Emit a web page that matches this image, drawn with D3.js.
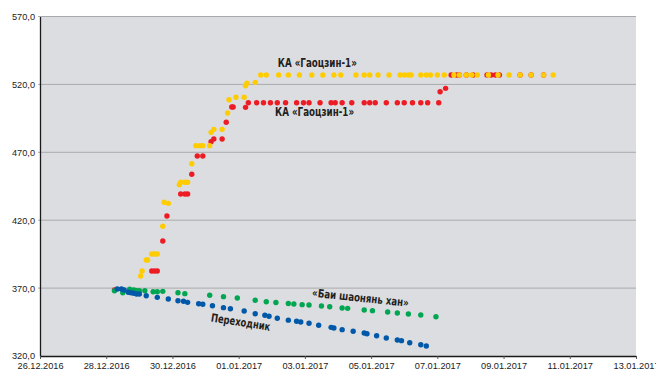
<!DOCTYPE html>
<html>
<head>
<meta charset="utf-8">
<script src="https://cdn.jsdelivr.net/npm/d3@7"></script>
<style>
  body { margin: 0; background: #fff; }
  .tick text { font-family: "Liberation Sans", Arial, sans-serif; font-size: 9.2px; fill: #222; }
  .label { font-family: "Liberation Sans Narrow", "DejaVu Sans Condensed", sans-serif; font-weight: bold; font-size: 11.5px; fill: #231f20; }
</style>
</head>
<body>
<div class="chart"></div>
<script>
var width = 656;
var height = 372;
var radius = 2.7;

var margin = { "top": 16.5, "bottom": 16, "left": 40, "right": 20 };

// КА «Гаоцзин-1» (yellow)
var yellowData = [
  ["29.12.2016 01:00", 378.9], ["29.12.2016 02:00", 382.6], ["29.12.2016 05:00", 390.7], ["29.12.2016 06:00", 390.7],
  ["29.12.2016 09:00", 395.1], ["29.12.2016 11:00", 395.1], ["29.12.2016 13:00", 395.1], ["29.12.2016 17:00", 415.5],
  ["29.12.2016 18:00", 433.2], ["29.12.2016 21:00", 432.4], ["30.12.2016 05:00", 446.1], ["30.12.2016 06:00", 447.9],
  ["30.12.2016 09:00", 447.9], ["30.12.2016 11:00", 447.9], ["30.12.2016 14:00", 461.6], ["30.12.2016 17:00", 474.9],
  ["30.12.2016 20:00", 474.9], ["30.12.2016 22:00", 474.9], ["31.12.2016 03:00", 474.9], ["31.12.2016 04:00", 484.7],
  ["31.12.2016 06:00", 486.9], ["31.12.2016 12:00", 486.9], ["31.12.2016 16:00", 498.9], ["31.12.2016 17:00", 508.7],
  ["31.12.2016 22:00", 510.5], ["01.01.2017 04:00", 510.5], ["01.01.2017 05:00", 519.0], ["01.01.2017 06:00", 520.8],
  ["01.01.2017 12:00", 521.5], ["01.01.2017 16:00", 526.9], ["01.01.2017 20:00", 526.9], ["02.01.2017 05:00", 526.9],
  ["02.01.2017 12:00", 526.9], ["02.01.2017 20:00", 526.9], ["03.01.2017 05:00", 526.9], ["03.01.2017 13:00", 526.9],
  ["03.01.2017 21:00", 526.9], ["04.01.2017 02:00", 526.9], ["04.01.2017 13:00", 526.9], ["04.01.2017 19:00", 526.9],
  ["04.01.2017 23:00", 526.9], ["05.01.2017 05:00", 526.9], ["05.01.2017 13:00", 526.9], ["05.01.2017 21:00", 526.9],
  ["06.01.2017 00:00", 526.9], ["06.01.2017 03:00", 526.9], ["06.01.2017 05:00", 526.9], ["06.01.2017 12:00", 526.9],
  ["06.01.2017 16:00", 526.9], ["06.01.2017 19:00", 526.9], ["07.01.2017 00:00", 526.9], ["07.01.2017 05:00", 526.9],
  ["07.01.2017 12:00", 526.9], ["07.01.2017 16:00", 526.9], ["07.01.2017 21:00", 526.9], ["08.01.2017 01:00", 526.9],
  ["08.01.2017 05:00", 526.9], ["08.01.2017 13:00", 526.9], ["08.01.2017 20:00", 526.9], ["09.01.2017 04:00", 526.9],
  ["09.01.2017 12:00", 526.9], ["09.01.2017 20:00", 526.9], ["10.01.2017 05:00", 526.9], ["10.01.2017 12:00", 526.9]
];

// КА «Гаоцзин-1» (red)
var redData = [
  ["28.12.2016 06:00", 368.6], ["29.12.2016 09:00", 382.6], ["29.12.2016 11:00", 382.6], ["29.12.2016 13:00", 382.6],
  ["29.12.2016 17:00", 404.7], ["29.12.2016 20:00", 423.1], ["30.12.2016 06:00", 439.3], ["30.12.2016 09:00", 439.3],
  ["30.12.2016 11:00", 439.3], ["30.12.2016 14:00", 453.8], ["30.12.2016 18:00", 467.3], ["30.12.2016 22:00", 467.3],
  ["31.12.2016 04:00", 477.8], ["31.12.2016 06:00", 479.8], ["31.12.2016 12:00", 479.8], ["31.12.2016 15:00", 492.1],
  ["31.12.2016 19:00", 503.4], ["31.12.2016 20:00", 503.4], ["01.01.2017 05:00", 503.1], ["01.01.2017 07:00", 506.5],
  ["01.01.2017 13:00", 506.5], ["01.01.2017 18:00", 506.5], ["01.01.2017 23:00", 506.5], ["02.01.2017 04:00", 506.5],
  ["02.01.2017 10:00", 506.5], ["02.01.2017 18:00", 506.5], ["02.01.2017 23:00", 506.5], ["03.01.2017 03:00", 506.5],
  ["03.01.2017 11:00", 506.5], ["03.01.2017 19:00", 506.5], ["03.01.2017 22:00", 506.5], ["04.01.2017 03:00", 506.5],
  ["04.01.2017 10:00", 506.5], ["04.01.2017 19:00", 506.5], ["04.01.2017 23:00", 506.5], ["05.01.2017 03:00", 506.5],
  ["05.01.2017 11:00", 506.5], ["05.01.2017 19:00", 506.5], ["06.01.2017 00:00", 506.5], ["06.01.2017 06:00", 506.5],
  ["06.01.2017 12:00", 506.5], ["06.01.2017 17:00", 506.5], ["07.01.2017 01:00", 506.5], ["07.01.2017 02:00", 514.6],
  ["07.01.2017 06:00", 517.1], ["07.01.2017 10:00", 526.9], ["07.01.2017 14:00", 526.9], ["07.01.2017 16:00", 526.9],
  ["07.01.2017 21:00", 526.9], ["08.01.2017 02:00", 526.9], ["08.01.2017 12:00", 526.9], ["08.01.2017 15:00", 526.9],
  ["08.01.2017 18:00", 526.9], ["08.01.2017 21:00", 526.9], ["09.01.2017 12:00", 526.9], ["09.01.2017 20:00", 526.9],
  ["10.01.2017 05:00", 526.9]
];

// «Баи шаонянь хан»
var greenData = [
  ["28.12.2016 06:00", 368.1], ["28.12.2016 12:00", 366.6], ["28.12.2016 17:00", 369.1], ["28.12.2016 20:00", 368.6],
  ["28.12.2016 22:00", 368.1], ["29.12.2016 00:00", 368.1], ["29.12.2016 04:00", 368.1], ["29.12.2016 10:00", 367.3],
  ["29.12.2016 13:00", 367.3], ["29.12.2016 17:00", 367.6], ["30.12.2016 04:00", 366.6], ["30.12.2016 09:00", 365.9],
  ["31.12.2016 03:00", 364.7], ["31.12.2016 13:00", 363.7], ["31.12.2016 23:00", 362.7], ["01.01.2017 12:00", 361.0],
  ["01.01.2017 20:00", 360.0], ["02.01.2017 03:00", 359.4], ["02.01.2017 12:00", 358.7], ["02.01.2017 16:00", 358.3],
  ["02.01.2017 22:00", 357.8], ["03.01.2017 03:00", 357.6], ["03.01.2017 12:00", 356.8], ["03.01.2017 18:00", 356.3],
  ["04.01.2017 03:00", 355.3], ["04.01.2017 07:00", 355.1], ["04.01.2017 19:00", 353.9], ["05.01.2017 01:00", 353.4],
  ["05.01.2017 12:00", 352.4], ["05.01.2017 19:00", 351.7], ["06.01.2017 03:00", 350.9], ["06.01.2017 12:00", 350.2],
  ["06.01.2017 23:00", 348.9]
];

// Переходник
var blueData = [
  ["28.12.2016 08:00", 369.3], ["28.12.2016 11:00", 369.3], ["28.12.2016 13:00", 368.6], ["28.12.2016 16:00", 366.9],
  ["28.12.2016 18:00", 366.6], ["28.12.2016 20:00", 366.2], ["28.12.2016 22:00", 365.7], ["29.12.2016 00:00", 365.7],
  ["29.12.2016 05:00", 364.4], ["29.12.2016 13:00", 363.2], ["29.12.2016 21:00", 362.0], ["30.12.2016 04:00", 360.7],
  ["30.12.2016 08:00", 360.3], ["30.12.2016 11:00", 359.5], ["30.12.2016 19:00", 358.5], ["30.12.2016 22:00", 358.1],
  ["31.12.2016 05:00", 357.0], ["31.12.2016 13:00", 355.6], ["31.12.2016 18:00", 354.8], ["01.01.2017 04:00", 353.1],
  ["01.01.2017 12:00", 351.1], ["01.01.2017 19:00", 350.0], ["01.01.2017 22:00", 349.3], ["02.01.2017 04:00", 347.8],
  ["02.01.2017 12:00", 346.4], ["02.01.2017 18:00", 345.6], ["02.01.2017 21:00", 345.0], ["03.01.2017 03:00", 344.1],
  ["03.01.2017 10:00", 342.6], ["03.01.2017 19:00", 341.1], ["03.01.2017 21:00", 340.6], ["04.01.2017 03:00", 339.4],
  ["04.01.2017 11:00", 338.2], ["04.01.2017 19:00", 336.9], ["04.01.2017 21:00", 336.4], ["05.01.2017 04:00", 334.9],
  ["05.01.2017 11:00", 333.3], ["05.01.2017 19:00", 331.8], ["05.01.2017 22:00", 331.3], ["06.01.2017 04:00", 329.8],
  ["06.01.2017 12:00", 328.3], ["06.01.2017 16:00", 327.4]
];

var xTickLabels = ["26.12.2016", "28.12.2016", "30.12.2016", "01.01.2017", "03.01.2017",
                   "05.01.2017", "07.01.2017", "09.01.2017", "11.01.2017", "13.01.2017"];
var yTickValues = [320, 370, 420, 470, 520, 570];

var parseTime = d3.timeParse("%d.%m.%Y %H:%M");
var parseDay = d3.timeParse("%d.%m.%Y");
var formatDay = d3.timeFormat("%d.%m.%Y");
var formatNum = function(d) { return d3.format(".1f")(d).replace(".", ","); };

var innerW = width - margin.left - margin.right;
var innerH = height - margin.top - margin.bottom;

var svg = d3.select(".chart")
              .append("svg")
              .attr("width", width)
              .attr("height", height)
              .append("g")
              .attr("transform", "translate(" + margin.left + "," + margin.top + ")");

var xTicks = xTickLabels.map(parseDay);

var scaleX = d3.scaleTime()
               .domain([xTicks[0], xTicks[xTicks.length - 1]])
               .range([0, innerW]);
var scaleY = d3.scaleLinear()
               .domain([320, 570])
               .range([innerH, 0]);

svg.append("rect")
    .attr("width", innerW)
    .attr("height", innerH)
    .attr("fill", "#dcdde0");

// grid lines
svg.append("g")
    .selectAll("line")
    .data(yTickValues.slice(1))
    .enter()
    .append("line")
    .attr("x1", -2)
    .attr("x2", innerW)
    .attr("y1", function(d) { return scaleY(d) })
    .attr("y2", function(d) { return scaleY(d) })
    .attr("stroke", "#a9aaac")
    .attr("stroke-width", 1);

var yAxis = d3.axisLeft(scaleY)
               .tickValues(yTickValues)
               .tickFormat(formatNum)
               .tickSize(0)
               .tickPadding(5);
var gy = svg.append("g").call(yAxis);
gy.select(".domain").attr("stroke", "#1a1a1a").attr("stroke-width", 1.3);

var xAxis = d3.axisBottom(scaleX)
               .tickValues(xTicks)
               .tickFormat(formatDay)
               .tickSizeInner(3)
               .tickSizeOuter(0)
               .tickPadding(3);
var gx = svg.append("g")
    .attr("transform", "translate(0," + innerH + ")")
    .call(xAxis);
gx.select(".domain").attr("stroke", "#1a1a1a").attr("stroke-width", 1.3);
gx.selectAll(".tick line").attr("stroke", "#555");

function drawDots(dataset, color) {
  svg.append("g")
      .selectAll("circle")
      .data(dataset)
      .enter()
      .append("circle")
      .attr("cx", function(d) { return scaleX(parseTime(d[0])) })
      .attr("cy", function(d) { return scaleY(d[1]) })
      .attr("r", radius)
      .attr("fill", color);
}

drawDots(redData, "#ed1c24");
drawDots(yellowData, "#ffcc00");
drawDots(greenData, "#00a651");
drawDots(blueData, "#0058a8");

// condensed labels, squeezed to the width they have in the original
function addLabel(text, time, value, angle, len) {
  var x = scaleX(parseTime(time));
  var y = scaleY(value);
  svg.append("text")
      .attr("class", "label")
      .attr("text-anchor", "middle")
      .attr("textLength", len)
      .attr("lengthAdjust", "spacingAndGlyphs")
      .attr("transform", "translate(" + x + "," + y + ") rotate(" + angle + ")")
      .text(text);
}

addLabel("КА «Гаоцзин-1»", "03.01.2017 09:00", 532.5, 0, 79);
addLabel("КА «Гаоцзин-1»", "03.01.2017 07:00", 496.5, 0, 79);
addLabel("«Баи шаонянь хан»", "04.01.2017 16:00", 360.0, 6, 97);
addLabel("Переходник", "01.01.2017 01:00", 342.0, 9, 60);
</script>
</body>
</html>
